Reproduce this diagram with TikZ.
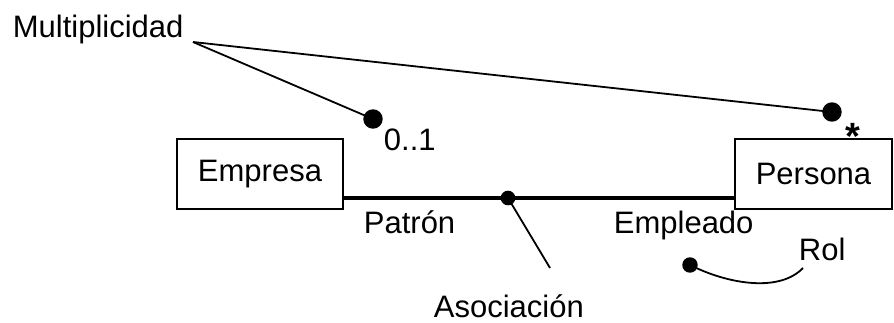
\documentclass[tikz,border=0pt]{standalone}
\usepackage{fontspec}
\setmainfont{Liberation Sans}

\begin{document}
\begin{tikzpicture}[x=0.5pt,y=-0.5pt,line width=0.9pt,
    font=\fontsize{15.5}{18}\selectfont,
    clase/.style={draw,line width=0.75pt,minimum width=83pt,minimum height=35pt,inner sep=0pt},
    etiqueta/.style={inner sep=0pt,anchor=base west}]
            \useasboundingbox (0,0) rectangle (894,322);

            \coordinate (m) at (193,42);
            \coordinate (d1) at (373,119);
            \coordinate (d2) at (832,112);
            \coordinate (a) at (508,198);
            \coordinate (a2) at (550,268);
            \coordinate (r1) at (690,265);
            \coordinate (r2) at (803,268);

            \node[clase] (empresa) at (260,174) {Empresa};
            \node[clase,minimum width=78.5pt] (persona) at (813.5,174) {Persona};

            \node[etiqueta] (multi) at (12,37) {Multiplicidad};
            \node[etiqueta] (uno) at (383,150) {0..1};
            \node[etiqueta,font=\fontsize{19}{20}\selectfont\bfseries] (muchos) at (845,149) {*};
            \node[etiqueta] (patron) at (363,233) {Patrón};
            \node[etiqueta] (empleado) at (613,233) {Empleado};
            \node[etiqueta] (rol) at (798,260) {Rol};
            \node[etiqueta] (asoc) at (433,317) {Asociación};

            \draw[line width=1.7pt] (empresa.east |- a) -- (persona.west |- a);

            \draw (m) -- (d1);
            \draw (m) -- (d2);
            \draw (a) -- (a2);
            \draw (r1) .. controls (730,285) and (780,292) .. (r2);

            \filldraw (d1) circle (4.4pt);
            \filldraw (d2) circle (4.4pt);
            \filldraw (a) circle (3.2pt);
            \filldraw (r1) circle (3.4pt);
        \end{tikzpicture}
\end{document}
